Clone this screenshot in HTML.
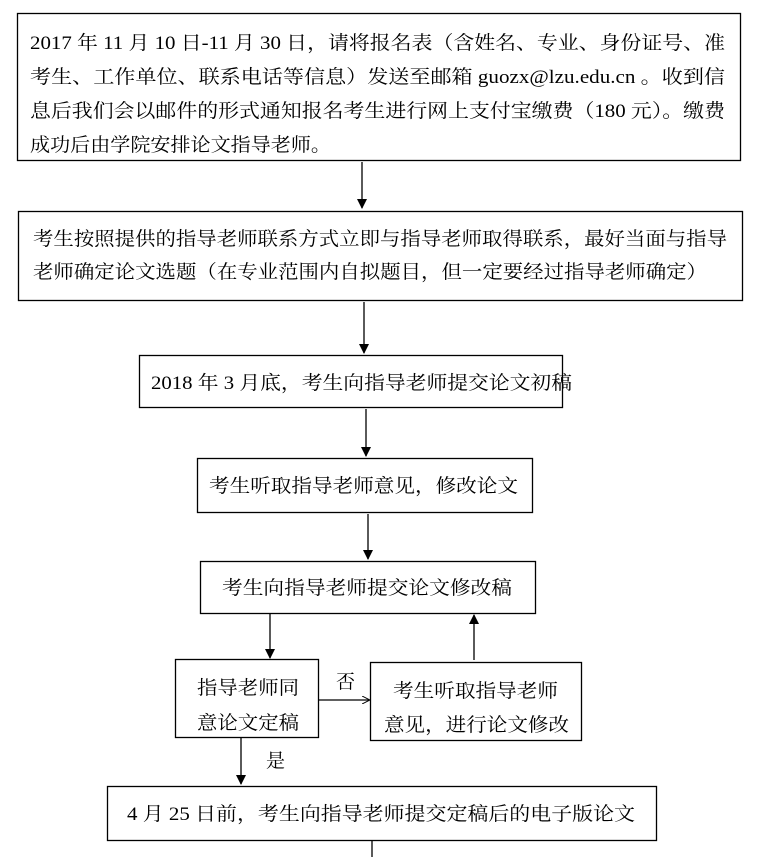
<!DOCTYPE html>
<html><head><meta charset="utf-8"><style>
html,body{margin:0;padding:0;background:#fff;}
svg text{font-family:"Liberation Serif","Noto Serif CJK SC",serif;font-size:19px;fill:#000;}
</style></head><body>
<svg width="758" height="857" xmlns="http://www.w3.org/2000/svg">
<defs><marker id="a" markerWidth="10" markerHeight="10" refX="9" refY="5" orient="auto" markerUnits="userSpaceOnUse"><path d="M0,0 L10,5 L0,10 z" fill="#000"/></marker>
<marker id="s" markerWidth="8" markerHeight="8" refX="7" refY="4" orient="auto" markerUnits="userSpaceOnUse"><path d="M0,0 L8,4 L0,8" fill="none" stroke="#000"/></marker></defs>
<g fill="none" stroke="#000" stroke-width="1.3">
<rect x="17.5" y="13.5" width="723" height="147"/>
<rect x="18.5" y="211.5" width="724" height="89"/>
<rect x="139.5" y="355.5" width="423" height="52"/>
<rect x="197.5" y="458.5" width="335" height="54"/>
<rect x="200.5" y="561.5" width="335" height="52"/>
<rect x="175.5" y="659.5" width="143" height="78"/>
<rect x="370.5" y="662.5" width="211" height="78"/>
<rect x="107.5" y="786.5" width="549" height="54"/>
<line x1="362" y1="162" x2="362" y2="208" marker-end="url(#a)"/>
<line x1="364" y1="302" x2="364" y2="353" marker-end="url(#a)"/>
<line x1="366" y1="409" x2="366" y2="456" marker-end="url(#a)"/>
<line x1="368" y1="514" x2="368" y2="559" marker-end="url(#a)"/>
<line x1="270" y1="614" x2="270" y2="658" marker-end="url(#a)"/>
<line x1="474" y1="660" x2="474" y2="615" marker-end="url(#a)"/>
<line x1="318" y1="700" x2="369" y2="700" marker-end="url(#s)"/>
<line x1="241" y1="738" x2="241" y2="784" marker-end="url(#a)"/>
<line x1="372" y1="841" x2="372" y2="857"/>
</g>
<text x="30" y="49" textLength="695" lengthAdjust="spacingAndGlyphs">2017 年 11 月 10 日-11 月 30 日，请将报名表（含姓名、专业、身份证号、准</text>
<text x="30" y="83" textLength="695" lengthAdjust="spacingAndGlyphs">考生、工作单位、联系电话等信息）发送至邮箱 guozx@lzu.edu.cn 。收到信</text>
<text x="30" y="117" textLength="695" lengthAdjust="spacingAndGlyphs">息后我们会以邮件的形式通知报名考生进行网上支付宝缴费（180 元）。缴费</text>
<text x="30" y="151" textLength="301" lengthAdjust="spacingAndGlyphs">成功后由学院安排论文指导老师。</text>
<text x="33" y="245" textLength="694" lengthAdjust="spacingAndGlyphs">考生按照提供的指导老师联系方式立即与指导老师取得联系，最好当面与指导</text>
<text x="33" y="278" textLength="674" lengthAdjust="spacingAndGlyphs">老师确定论文选题（在专业范围内自拟题目，但一定要经过指导老师确定）</text>
<text x="151" y="389" textLength="421" lengthAdjust="spacingAndGlyphs">2018 年 3 月底，考生向指导老师提交论文初稿</text>
<text x="209" y="492" textLength="309" lengthAdjust="spacingAndGlyphs">考生听取指导老师意见，修改论文</text>
<text x="222" y="594" textLength="290" lengthAdjust="spacingAndGlyphs">考生向指导老师提交论文修改稿</text>
<text x="197" y="694" textLength="102" lengthAdjust="spacingAndGlyphs">指导老师同</text>
<text x="197" y="729" textLength="102" lengthAdjust="spacingAndGlyphs">意论文定稿</text>
<text x="393" y="697" textLength="165" lengthAdjust="spacingAndGlyphs">考生听取指导老师</text>
<text x="384" y="731" textLength="185" lengthAdjust="spacingAndGlyphs">意见，进行论文修改</text>
<text x="336" y="688">否</text>
<text x="266" y="767">是</text>
<text x="127" y="820" textLength="508" lengthAdjust="spacingAndGlyphs">4 月 25 日前，考生向指导老师提交定稿后的电子版论文</text>
</svg>
</body></html>
